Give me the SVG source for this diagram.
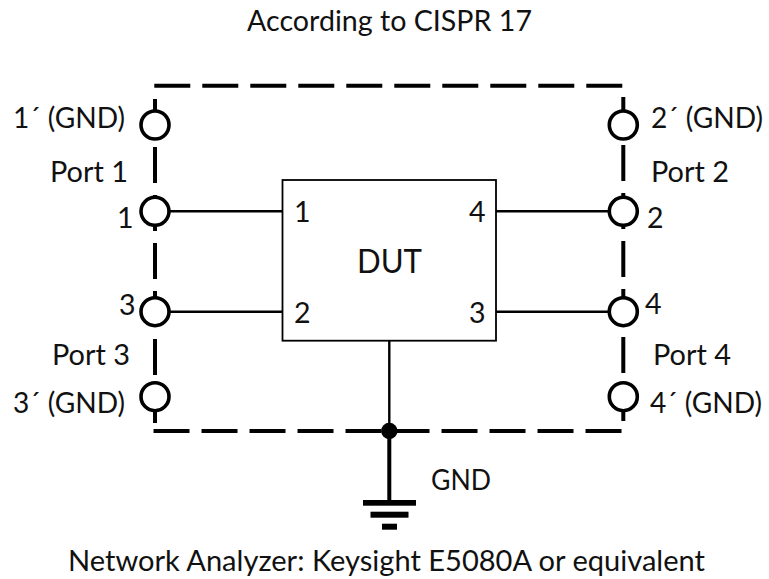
<svg xmlns="http://www.w3.org/2000/svg" width="769" height="579" viewBox="0 0 769 579">
<style>
text{font-family:"Lato","Open Sans","Liberation Sans",sans-serif;font-size:28.5px;fill:#111}
.dash{fill:none;stroke:#000;stroke-width:4;stroke-dasharray:36 12}
.wire{fill:none;stroke:#000;stroke-width:2.4}
.port{fill:#fff;stroke:#000;stroke-width:3.6}
</style>
<rect width="769" height="579" fill="#fff"/>
<g id="connectors">
<path class="dash" d="M154.3 85.7H623"/>
<path class="dash" d="M153.5 431H622"/>
<path class="dash" d="M155 99V423"/>
<path class="dash" d="M623.3 97V421"/>
<path class="wire" d="M170 211.3H283M170 311.7H283M496 211.3H608M496 311.7H608M389.3 340.7V431"/>
<path d="M389.3 431V503" fill="none" stroke="#000" stroke-width="4"/>
</g>
<g id="title"><text x="247" y="31" textLength="285" lengthAdjust="spacingAndGlyphs">According to CISPR 17</text></g>
<g id="dut"><rect x="282.5" y="180" width="213.5" height="160.7" fill="#fff" stroke="#000" stroke-width="1.8"/>
<text x="357" y="272.7" textLength="65" lengthAdjust="spacingAndGlyphs" style="font-size:33px">DUT</text>
<text x="294" y="221.7">1</text><text x="294" y="322.7">2</text><text x="469" y="221.7">4</text><text x="469" y="322.7">3</text></g>
<g id="port1g"><circle class="port" cx="155" cy="125" r="14"/><text x="13" y="128" textLength="112" lengthAdjust="spacingAndGlyphs">1´ (GND)</text></g>
<g id="port1"><circle class="port" cx="155" cy="211.3" r="14"/><text x="50" y="181.7" textLength="78" lengthAdjust="spacingAndGlyphs">Port 1</text><text x="117" y="228">1</text></g>
<g id="port3"><circle class="port" cx="155" cy="311.7" r="14"/><text x="119" y="315">3</text><text x="52" y="365" textLength="78" lengthAdjust="spacingAndGlyphs">Port 3</text></g>
<g id="port3g"><circle class="port" cx="155" cy="396.7" r="14"/><text x="13" y="413" textLength="112" lengthAdjust="spacingAndGlyphs">3´ (GND)</text></g>
<g id="port2g"><circle class="port" cx="623.3" cy="125" r="14"/><text x="651" y="128" textLength="112" lengthAdjust="spacingAndGlyphs">2´ (GND)</text></g>
<g id="port2"><circle class="port" cx="623.3" cy="211.3" r="14"/><text x="651" y="181.7" textLength="78" lengthAdjust="spacingAndGlyphs">Port 2</text><text x="647" y="228">2</text></g>
<g id="port4"><circle class="port" cx="623.3" cy="311.7" r="14"/><text x="645" y="314.3">4</text><text x="653" y="365" textLength="78" lengthAdjust="spacingAndGlyphs">Port 4</text></g>
<g id="port4g"><circle class="port" cx="623.3" cy="396.7" r="14"/><text x="650" y="413.3" textLength="112" lengthAdjust="spacingAndGlyphs">4´ (GND)</text></g>
<g id="gnd"><circle cx="389.3" cy="431" r="8.2"/>
<rect x="363" y="500" width="53" height="5.7"/><rect x="370.5" y="511.7" width="38" height="6"/><rect x="382" y="523.7" width="15" height="6"/>
<text x="431" y="490" textLength="60" lengthAdjust="spacingAndGlyphs">GND</text></g>
<g id="footer"><text x="68" y="571" textLength="637" lengthAdjust="spacingAndGlyphs">Network Analyzer: Keysight E5080A or equivalent</text></g>
</svg>
